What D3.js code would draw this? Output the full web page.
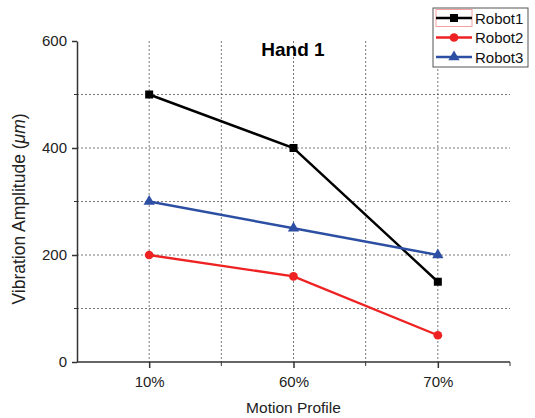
<!DOCTYPE html>
<html>
<head>
<meta charset="utf-8">
<script src="https://cdn.jsdelivr.net/npm/d3@7"></script>
<style>
  body { margin: 0; background: #fff; }
  text { font-family: Arial, "Liberation Sans", sans-serif; }
</style>
</head>
<body>
<div id="chart"></div>
<script>
const profiles = ["10%", "60%", "70%"];
const robot1 = [500, 400, 150];
const robot2 = [200, 160, 50];
const robot3 = [300, 250, 200];
const yTicks = [0, 200, 400, 600];
const yMinor = [100, 300, 500];

const width = 535, height = 418;
const mLeft = 77, mRight = 510, mTop = 41, mBottom = 362;

const svg = d3.select("#chart").append("svg")
    .attr("width", width)
    .attr("height", height);

const x = d3.scalePoint()
    .domain(profiles)
    .range([mLeft, mRight])
    .padding(0.5);
const step = x.step();

const y = d3.scaleLinear()
    .domain([0, 600])
    .range([mBottom, mTop]);

// grid
const midX = profiles.slice(0, -1).map(p => x(p) + step / 2);
svg.append("g").selectAll("line")
    .data(profiles.map(p => x(p)).concat(midX))
    .enter().append("line")
    .attr("x1", d => d).attr("x2", d => d)
    .attr("y1", mTop).attr("y2", mBottom)
    .attr("stroke", "#555").attr("stroke-width", 0.8)
    .attr("stroke-dasharray", "2,2");
svg.append("g").selectAll("line")
    .data([100, 200, 300, 400, 500])
    .enter().append("line")
    .attr("x1", mLeft).attr("x2", mRight)
    .attr("y1", d => y(d)).attr("y2", d => y(d))
    .attr("stroke", "#555").attr("stroke-width", 0.8)
    .attr("stroke-dasharray", "2,2");

// axes
const xAxis = svg.append("g")
    .attr("transform", "translate(0," + mBottom + ")")
    .call(d3.axisBottom(x).tickSize(6).tickPadding(8).tickSizeOuter(0));
xAxis.select(".domain").attr("d", "M" + mLeft + ",0H" + mRight);
xAxis.selectAll(".minor")
    .data(midX.concat([mRight]))
    .enter().append("line")
    .attr("class", "minor")
    .attr("x1", d => d).attr("x2", d => d)
    .attr("y1", 0).attr("y2", 4)
    .attr("stroke", "#333");

const yAxis = svg.append("g")
    .attr("transform", "translate(" + mLeft + ",0)")
    .call(d3.axisLeft(y).tickValues(yTicks).tickSize(5).tickPadding(5).tickSizeOuter(0));
yAxis.selectAll(".minor")
    .data(yMinor)
    .enter().append("line")
    .attr("class", "minor")
    .attr("x1", 0).attr("x2", -3)
    .attr("y1", d => y(d)).attr("y2", d => y(d))
    .attr("stroke", "#333");

svg.selectAll(".domain, .tick line").attr("stroke", "#333").attr("stroke-width", 1.5);
svg.selectAll(".tick text")
    .attr("font-size", 15)
    .attr("font-family", "Arial, 'Liberation Sans', sans-serif")
    .attr("fill", "#222");

// labels
svg.append("text")
    .attr("x", 293).attr("y", 56)
    .attr("text-anchor", "middle")
    .attr("font-size", 19).attr("font-weight", "bold")
    .text("Hand 1");

svg.append("text")
    .attr("x", (mLeft + mRight) / 2).attr("y", 413)
    .attr("text-anchor", "middle")
    .attr("font-size", 15.5).attr("fill", "#222")
    .text("Motion Profile");

const yl = svg.append("text")
    .attr("transform", "translate(25,209) rotate(-90)")
    .attr("text-anchor", "middle")
    .attr("font-size", 17.5).attr("fill", "#222");
yl.append("tspan").text("Vibration Amplitude (");
yl.append("tspan").attr("font-style", "italic").text("\u03BCm");
yl.append("tspan").text(")");

// series
const series = [
    { name: "Robot1", values: robot1, color: "#000000", shape: d3.symbolSquare, size: 64 },
    { name: "Robot2", values: robot2, color: "#ee2222", shape: d3.symbolCircle, size: 60 },
    { name: "Robot3", values: robot3, color: "#2d4fa3", shape: d3.symbolTriangle, size: 55 }
];

const line = d3.line()
    .x((d, i) => x(profiles[i]))
    .y(d => y(d));

series.forEach(s => {
    svg.append("path")
        .datum(s.values)
        .attr("d", line)
        .attr("fill", "none")
        .attr("stroke", s.color)
        .attr("stroke-width", 2.4);
    svg.append("g").selectAll("path")
        .data(s.values)
        .enter().append("path")
        .attr("transform", (d, i) => "translate(" + x(profiles[i]) + "," + y(d) + ")")
        .attr("d", d3.symbol().type(s.shape).size(s.size))
        .attr("fill", s.color);
});

// legend
const lg = svg.append("g");
lg.append("rect")
    .attr("x", 433).attr("y", 8)
    .attr("width", 95).attr("height", 59)
    .attr("fill", "#fff").attr("stroke", "#555").attr("stroke-width", 1);
lg.append("rect")
    .attr("x", 436).attr("y", 9.5)
    .attr("width", 36).attr("height", 17)
    .attr("fill", "none").attr("stroke", "#f4a0a0").attr("stroke-width", 1);
series.forEach((s, i) => {
    const yy = 18 + i * 19.5;
    lg.append("line")
        .attr("x1", 436).attr("x2", 472)
        .attr("y1", yy).attr("y2", yy)
        .attr("stroke", s.color).attr("stroke-width", 2.4);
    lg.append("path")
        .attr("transform", "translate(454," + yy + ")")
        .attr("d", d3.symbol().type(s.shape).size(s.size))
        .attr("fill", s.color);
    lg.append("text")
        .attr("x", 475).attr("y", yy + 5.5)
        .attr("font-size", 15).attr("fill", "#111")
        .text(s.name);
});
</script>
</body>
</html>
